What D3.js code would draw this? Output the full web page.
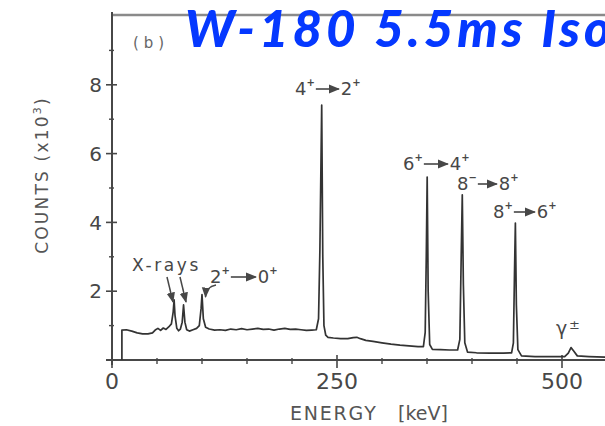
<!DOCTYPE html>
<html><head><meta charset="utf-8">
<script src="https://cdn.jsdelivr.net/npm/d3@7"></script>
<style>html,body{margin:0;padding:0;background:#fff;overflow:hidden}</style>
</head><body>
<svg id="c" width="605" height="426" xmlns="http://www.w3.org/2000/svg"></svg>
<script>
// ---- data ----
const energyKeV = [11,11,16,22,28,34,40,45,48,51,54,57,60,63,66,68,69,70,72,74,76,78,79.5,81,83,86,90,94,97,99,100,101.5,104,108,114,120,126,132,138,144,150,156,162,168,174,180,186,192,198,204,210,216,222,227,229.5,231,233,234.2,235.5,237.5,240,246,254,262,268,272,276,282,290,300,310,320,330,340,346,348,349.2,350.2,351.3,353,356,365,375,384,386.5,388,389.2,390.4,392,395,405,420,435,444,446,447.2,448.2,449.3,451,455,470,490,503,507,510,513,517,530,550];
const countsK  = [0,0.87,0.88,0.84,0.79,0.76,0.76,0.79,0.87,0.92,0.86,0.93,0.89,0.96,1.05,1.4,1.75,1.3,0.92,0.85,0.9,1.1,1.6,1.1,0.88,0.84,0.88,0.92,1.0,1.5,1.9,1.2,0.95,0.9,0.87,0.88,0.86,0.9,0.88,0.91,0.88,0.9,0.92,0.89,0.9,0.87,0.9,0.92,0.89,0.9,0.88,0.86,0.87,0.88,1.2,3.2,7.41,3.0,1.0,0.72,0.66,0.64,0.62,0.62,0.65,0.66,0.62,0.57,0.54,0.5,0.46,0.43,0.41,0.39,0.39,0.8,3.0,5.32,2.0,0.45,0.31,0.3,0.29,0.29,0.6,3.0,4.80,2.2,0.5,0.23,0.21,0.2,0.2,0.21,0.5,2.5,3.98,1.6,0.3,0.12,0.1,0.1,0.1,0.2,0.36,0.26,0.12,0.1,0.08];
const xTickValues = [0, 250, 500];
const xMinorTicks = [50,100,150,200,300,350,400,450,550];
const yTickValues = [2, 4, 6, 8];
const yMinorTicks = [1, 3, 5, 7, 9];
const transitions = [
  {from:"4", fs:"+", to:"2", ts:"+"},
  {from:"6", fs:"+", to:"4", ts:"+"},
  {from:"8", fs:"\u2212", to:"8", ts:"+"},
  {from:"8", fs:"+", to:"6", ts:"+"}
];
const titleText = "W-180 5.5ms Isomer";

// ---- layout ----
const svg = d3.select("#c");
const x = d3.scaleLinear().domain([0, 550]).range([112, 607]);
const y = d3.scaleLinear().domain([0, 10]).range([360, 16]);
const ink = "#474747";
const font = "DejaVu Sans";

// top frame line
svg.append("line").attr("x1", 112).attr("x2", 605).attr("y1", 15).attr("y2", 15)
  .attr("stroke", "#8a8a8a").attr("stroke-width", 2.6);

// y axis
svg.append("line").attr("x1", 112).attr("x2", 112).attr("y1", 12).attr("y2", 365)
  .attr("stroke", ink).attr("stroke-width", 2);
svg.selectAll(".ymaj").data([0].concat(yTickValues)).join("line")
  .attr("x1", 106).attr("x2", 117).attr("y1", d => y(d)).attr("y2", d => y(d))
  .attr("stroke", ink).attr("stroke-width", 1.6);
svg.selectAll(".ymin").data(yMinorTicks).join("line")
  .attr("x1", 109).attr("x2", 114).attr("y1", d => y(d)).attr("y2", d => y(d))
  .attr("stroke", ink).attr("stroke-width", 1.4);
svg.selectAll(".ylab").data(yTickValues).join("text")
  .attr("x", 102).attr("y", d => y(d)).attr("dy", "0.36em")
  .attr("text-anchor", "end").attr("font-family", font).attr("font-size", 20)
  .attr("fill", ink).text(d => d);

// x axis
svg.append("line").attr("x1", 106).attr("x2", 605).attr("y1", 360).attr("y2", 360)
  .attr("stroke", ink).attr("stroke-width", 2);
svg.selectAll(".xmaj").data(xTickValues).join("line")
  .attr("x1", d => x(d)).attr("x2", d => x(d)).attr("y1", 355).attr("y2", 368)
  .attr("stroke", ink).attr("stroke-width", 1.6);
svg.selectAll(".xmin").data(xMinorTicks).join("line")
  .attr("x1", d => x(d)).attr("x2", d => x(d)).attr("y1", 358).attr("y2", 364)
  .attr("stroke", ink).attr("stroke-width", 1.4);
svg.selectAll(".xlab").data(xTickValues).join("text")
  .attr("x", d => x(d)).attr("y", 389)
  .attr("text-anchor", "middle").attr("font-family", font).attr("font-size", 22)
  .attr("fill", ink).text(d => d);

// axis titles
svg.append("text").attr("x", 290).attr("y", 420)
  .attr("font-family", font).attr("font-size", 19).attr("letter-spacing", 1.8)
  .attr("fill", "#555").text("ENERGY");
svg.append("text").attr("x", 398).attr("y", 420)
  .attr("font-family", font).attr("font-size", 19)
  .attr("fill", "#555").text("[keV]");
const yt = svg.append("text").attr("transform", "translate(48,175) rotate(-90)")
  .attr("text-anchor", "middle").attr("font-family", font).attr("font-size", 17)
  .attr("letter-spacing", 2.2).attr("fill", "#555");
yt.append("tspan").text("COUNTS (x10");
yt.append("tspan").attr("font-size", 11).attr("dy", -7).text("3");
yt.append("tspan").attr("dy", 7).text(")");

// (b)
svg.append("text").attr("x", 133).attr("y", 48)
  .attr("font-family", font).attr("font-size", 15).attr("letter-spacing", 5)
  .attr("fill", "#666").text("(b)");

// spectrum
const pts = energyKeV.map((e, i) => [e, countsK[i]]);
svg.append("path").datum(pts)
  .attr("d", d3.line().x(d => x(d[0])).y(d => y(d[1])))
  .attr("fill", "none").attr("stroke", "#333").attr("stroke-width", 1.7)
  .attr("stroke-linejoin", "round");

// arrow marker
const defs = svg.append("defs");
defs.append("marker").attr("id", "ah").attr("viewBox", "0 0 10 10")
  .attr("refX", 9).attr("refY", 5).attr("markerWidth", 7).attr("markerHeight", 7)
  .attr("orient", "auto-start-reverse")
  .append("path").attr("d", "M0,1 L10,5 L0,9 z").attr("fill", ink);

function transLabel(t, px, py, arrowLen) {
  const g = svg.append("g").attr("font-family", font).attr("fill", ink);
  const t1 = g.append("text").attr("x", px).attr("y", py).attr("font-size", 18);
  t1.append("tspan").text(t.from);
  t1.append("tspan").attr("font-size", 10).attr("dy", -9).attr("font-weight", "bold").text(t.fs);
  const w1 = t1.node().getComputedTextLength();
  g.append("line").attr("x1", px + w1 + 1).attr("x2", px + w1 + arrowLen)
    .attr("y1", py - 6).attr("y2", py - 6).attr("stroke", ink).attr("stroke-width", 1.6)
    .attr("marker-end", "url(#ah)");
  const t2 = g.append("text").attr("x", px + w1 + arrowLen + 2).attr("y", py).attr("font-size", 18);
  t2.append("tspan").text(t.to);
  t2.append("tspan").attr("font-size", 10).attr("dy", -9).attr("font-weight", "bold").text(t.ts);
}
const labelPos = [[295, 95, 24], [403, 170, 25], [457, 190, 20], [493, 218, 22]];
transitions.forEach((t, i) => transLabel(t, labelPos[i][0], labelPos[i][1], labelPos[i][2]));

// 2+ -> 0+
transLabel({from:"2", fs:"+", to:"0", ts:"+"}, 210, 283, 26);
svg.append("path").attr("d", "M216,285 C211,286 206,288 205.5,297")
  .attr("fill", "none").attr("stroke", ink).attr("stroke-width", 1.5).attr("marker-end", "url(#ah)");

// X-rays
svg.append("text").attr("x", 132).attr("y", 271)
  .attr("font-family", font).attr("font-size", 17).attr("letter-spacing", 2.6)
  .attr("fill", ink).text("X-rays");
svg.append("line").attr("x1", 167).attr("y1", 277).attr("x2", 173).attr("y2", 302)
  .attr("stroke", ink).attr("stroke-width", 1.5).attr("marker-end", "url(#ah)");
svg.append("line").attr("x1", 180).attr("y1", 277).attr("x2", 186).attr("y2", 302)
  .attr("stroke", ink).attr("stroke-width", 1.5).attr("marker-end", "url(#ah)");

// gamma +-
svg.append("text").attr("x", 556).attr("y", 335)
  .attr("font-family", font).attr("font-size", 19).attr("fill", ink).text("\u03b3");
svg.append("text").attr("x", 569).attr("y", 329)
  .attr("font-family", font).attr("font-size", 13).attr("fill", ink).text("\u00b1");

// title (runs past the right edge, as in the reference)
const title = svg.append("text").attr("x", 185).attr("y", 47)
  .attr("font-family", "Lato, 'Open Sans', sans-serif").attr("font-weight", 900)
  .attr("font-style", "italic").attr("font-size", 51).attr("fill", "#0538ff")
  .text(titleText);
const wPart = title.node().getSubStringLength(0, 14);
title.attr("letter-spacing", Math.max(-2, (395 - wPart) / 13));
</script>
</body></html>
